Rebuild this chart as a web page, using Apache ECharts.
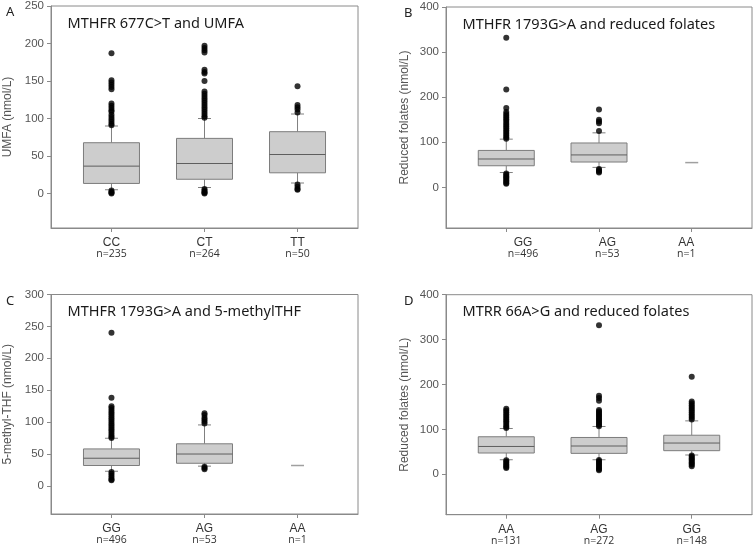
<!DOCTYPE html>
<html>
<head>
    <meta charset="UTF-8">
    <title></title>
    <script type="text/javascript" src="https://cdn.jsdelivr.net/npm/echarts@6/dist/echarts.min.js"></script>
    <style>
        html, body { margin: 0; padding: 0; background: #fff; }
    </style>
</head>
<body>
<div id="main" style="width: 756px;height:548px;"></div>
<script type="text/javascript">
    // panel A: MTHFR 677C>T and UMFA
    var catA = ['CC', 'CT', 'TT'];
    var nA = [235, 264, 50];
    // [lower whisker, Q1, median, Q3, upper whisker]
    var boxA = [[5, 13.4, 36.5, 67.7, 90], [8, 19, 40, 73.5, 100], [14, 27.6, 52, 82.4, 106]];
    var outA = [
        [187, 151, 148, 145, 142, 139, 120, 117, 114, 111, 109, 105, 102, 99, 96, 93, 91, 4, 2, 1, 0],
        [197, 194, 191, 188, 165, 162, 160, 150, 136, 133, 130, 127, 124, 121, 118, 115, 112, 109, 106, 103, 101, 6, 4, 2, 1, 0],
        [143, 118, 115, 112, 108, 12, 9, 6, 5]
    ];
    var ticksA = [0, 50, 100, 150, 200, 250];

    // panel B: MTHFR 1793G>A and reduced folates
    var catB = ['GG', 'AG', 'AA'];
    var nB = [496, 53, 1];
    var boxB = [[33, 48, 63, 82, 107], [44.4, 56.3, 72, 98.5, 121], [55, 55, 55, 55, 55]];
    var outB = [
        [332, 217, 176, 167, 163, 159, 155, 151, 147, 143, 139, 135, 131, 127, 123, 119, 115, 111, 108, 31, 28, 25, 22, 19, 16, 13, 10, 8],
        [173, 150, 146, 142, 125, 41, 38, 35, 33],
        []
    ];
    var ticksB = [0, 100, 200, 300, 400];

    // panel C: MTHFR 1793G>A and 5-methylTHF
    var catC = ['GG', 'AG', 'AA'];
    var nC = [496, 53, 1];
    var boxC = [[23, 32, 43.4, 58, 74.7], [31, 35.5, 50, 66, 95.6], [32, 32, 32, 32, 32]];
    var outC = [
        [240, 138, 125, 122, 119, 116, 113, 110, 107, 104, 101, 98, 95, 92, 89, 86, 83, 80, 77, 75, 22, 19, 16, 13, 10, 9],
        [114, 111, 107, 104, 101, 98, 30, 28, 26],
        []
    ];
    var ticksC = [0, 50, 100, 150, 200, 250, 300];

    // panel D: MTRR 66A>G and reduced folates
    var catD = ['AA', 'AG', 'GG'];
    var nD = [131, 272, 148];
    var boxD = [[32.4, 47.4, 62, 83.6, 102], [32.4, 46.6, 63, 82, 106.5], [43, 52.6, 69.6, 87, 119]];
    var outD = [
        [146, 142, 138, 134, 130, 126, 122, 118, 114, 110, 106, 103, 31, 28, 25, 22, 19, 16, 14],
        [332, 175, 170, 164, 143, 140, 137, 134, 131, 128, 125, 122, 119, 116, 113, 110, 107, 32, 29, 26, 23, 20, 17, 14, 11, 9],
        [217, 162, 158, 154, 150, 146, 142, 138, 134, 130, 126, 122, 42, 39, 36, 33, 30, 27, 24, 21, 18]
    ];
    var ticksD = [0, 100, 200, 300, 400];

    var panels = [
        {letter: 'A', title: 'MTHFR 677C>T and UMFA', yName: 'UMFA (nmol/L)', cats: catA, ns: nA, boxes: boxA, outs: outA, ticks: ticksA,
            ymin: -46, ymax: 250, grid: {left: 51, top: 6, width: 307, height: 222}, labelPos: [1, 2, 3], nameGap: 37},
        {letter: 'B', title: 'MTHFR 1793G>A and reduced folates', yName: 'Reduced folates (nmol/L)', cats: catB, ns: nB, boxes: boxB, outs: outB, ticks: ticksB,
            ymin: -90, ymax: 400, grid: {left: 446, top: 7, width: 306, height: 221}, labelPos: [1.18, 2.09, 2.94], nameGap: 35},
        {letter: 'C', title: 'MTHFR 1793G>A and 5-methylTHF', yName: '5-methyl-THF (nmol/L)', cats: catC, ns: nC, boxes: boxC, outs: outC, ticks: ticksC,
            ymin: -44, ymax: 300, grid: {left: 51, top: 294.5, width: 307, height: 219.5}, labelPos: [1, 2, 3], nameGap: 37},
        {letter: 'D', title: 'MTRR 66A>G and reduced folates', yName: 'Reduced folates (nmol/L)', cats: catD, ns: nD, boxes: boxD, outs: outD, ticks: ticksD,
            ymin: -90, ymax: 400, grid: {left: 446, top: 294.7, width: 306, height: 220}, labelPos: [1, 2, 3], nameGap: 35}
    ];

    var frame = '#8a8a8a';

    function renderBox(params, api) {
        var x = api.value(0);
        var lo = api.coord([x, api.value(1)]);
        var q1 = api.coord([x, api.value(2)]);
        var md = api.coord([x, api.value(3)]);
        var q3 = api.coord([x, api.value(4)]);
        var hi = api.coord([x, api.value(5)]);
        var cx = lo[0], hw = 28, cw = 6.5;
        var line = {stroke: '#808080', lineWidth: 1};
        // n=1: only a short line at the value
        if (api.value(1) === api.value(5)) {
            return {type: 'line', shape: {x1: cx - cw, y1: md[1], x2: cx + cw, y2: md[1]}, style: {stroke: '#a0a0a0', lineWidth: 1.5}};
        }
        return {
            type: 'group',
            children: [
                {type: 'line', shape: {x1: cx, y1: hi[1], x2: cx, y2: q3[1]}, style: line},
                {type: 'line', shape: {x1: cx, y1: q1[1], x2: cx, y2: lo[1]}, style: line},
                {type: 'line', shape: {x1: cx - cw, y1: hi[1], x2: cx + cw, y2: hi[1]}, style: line},
                {type: 'line', shape: {x1: cx - cw, y1: lo[1], x2: cx + cw, y2: lo[1]}, style: line},
                {type: 'rect', shape: {x: cx - hw, y: q3[1], width: hw * 2, height: q1[1] - q3[1]},
                    style: {fill: '#cdcdcd', stroke: '#7d7d7d', lineWidth: 1}},
                {type: 'line', shape: {x1: cx - hw, y1: md[1], x2: cx + hw, y2: md[1]}, style: {stroke: '#5e5e5e', lineWidth: 1}}
            ]
        };
    }

    var option = {
        animation: false,
        title: [],
        grid: [],
        xAxis: [],
        yAxis: [],
        series: []
    };

    panels.forEach(function (p, i) {
        var g = p.grid;
        option.grid.push({left: g.left, top: g.top, width: g.width, height: g.height,
            show: true, borderColor: frame, borderWidth: 1, backgroundColor: 'transparent'});
        option.title.push({text: p.letter, left: i % 2 === 0 ? 1 : 399, top: g.top - 5,
            textStyle: {fontSize: 13, fontWeight: 'normal', color: '#222', fontFamily: 'Noto Sans'}});
        option.title.push({text: p.title, left: g.left + 11.5, top: g.top + 5,
            textStyle: {fontSize: 14.5, fontWeight: 'normal', color: '#1a1a1a', fontFamily: 'Noto Sans'}});
        option.xAxis.push({
            type: 'value', gridIndex: i, min: 0.35, max: 3.65,
            splitLine: {show: false},
            axisLine: {show: true, onZero: false, lineStyle: {color: frame}},
            axisTick: {show: true, length: 4, lineStyle: {color: frame}, customValues: [1, 2, 3]},
            axisLabel: {
                customValues: p.labelPos, margin: 9,
                formatter: function (v) {
                    var k = Math.round(v) - 1;
                    return '{a|' + p.cats[k] + '}\n{b|n=' + p.ns[k] + '}';
                },
                rich: {
                    a: {fontSize: 12, fontFamily: 'Liberation Sans', color: '#333', lineHeight: 12},
                    b: {fontSize: 10.5, fontFamily: 'Open Sans', color: '#333', lineHeight: 11}
                }
            }
        });
        option.yAxis.push({
            type: 'value', gridIndex: i, min: p.ymin, max: p.ymax,
            name: p.yName, nameLocation: 'middle', nameGap: p.nameGap, nameRotate: 90,
            nameTextStyle: {fontSize: 12, fontFamily: 'Liberation Sans', color: '#555'},
            splitLine: {show: false},
            axisLine: {show: true, onZero: false, lineStyle: {color: frame}},
            axisTick: {show: true, length: 4, lineStyle: {color: frame}, customValues: p.ticks},
            axisLabel: {customValues: p.ticks, margin: 7, fontSize: 11.5, fontFamily: 'Liberation Sans', color: '#555'}
        });
        var boxData = p.boxes.map(function (b, k) { return [k + 1].concat(b); });
        option.series.push({
            type: 'custom', xAxisIndex: i, yAxisIndex: i,
            renderItem: renderBox, data: boxData, encode: {x: 0, y: [1, 2, 3, 4, 5]}
        });
        var pts = [];
        p.outs.forEach(function (list, k) {
            list.forEach(function (v) { pts.push([k + 1, v]); });
        });
        option.series.push({
            type: 'scatter', xAxisIndex: i, yAxisIndex: i, data: pts,
            symbolSize: 6, itemStyle: {color: '#000'}, z: 3
        });
    });

    var myChart = echarts.init(document.getElementById('main'));
    myChart.setOption(option);
</script>
</body>
</html>
